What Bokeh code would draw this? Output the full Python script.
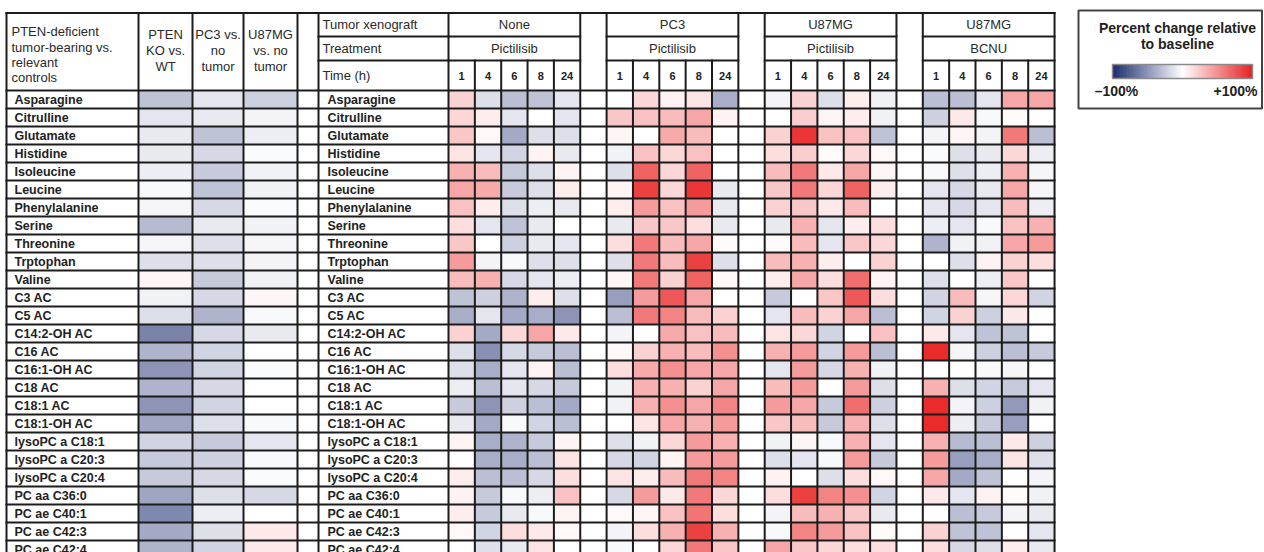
from bokeh.plotting import figure
from bokeh.models import Range1d, ColumnDataSource
from bokeh.core.properties import value
from bokeh.embed import file_html
from bokeh.resources import INLINE

# ---------------- data ----------------
metabolites = [
    "Asparagine", "Citrulline", "Glutamate", "Histidine", "Isoleucine", "Leucine",
    "Phenylalanine", "Serine", "Threonine", "Trptophan", "Valine", "C3 AC", "C5 AC",
    "C14:2-OH AC", "C16 AC", "C16:1-OH AC", "C18 AC", "C18:1 AC", "C18:1-OH AC",
    "lysoPC a C18:1", "lysoPC a C20:3", "lysoPC a C20:4", "PC aa C36:0",
    "PC ae C40:1", "PC ae C42:3", "PC ae C42:4",
]

control_title = ["PTEN-deficient", "tumor-bearing vs.", "relevant", "controls"]
control_labels = [["PTEN", "KO vs.", "WT"], ["PC3 vs.", "no", "tumor"], ["U87MG", "vs. no", "tumor"]]

# percent change, tumor-bearing vs. controls
pten_ko_vs_wt = [-28, -12, -10, -10, -8, -3, -4, -32, -4, -15, 4, -6, -15,
                 -58, -35, -50, -35, -50, -42, -20, -25, -25, -42, -56, -40, -35]
pc3_vs_no_tumor = [-12, -10, -28, -18, -25, -28, -18, -10, -15, -15, -25, -18, -35,
                   -18, -20, -20, -18, -20, -15, -25, -22, -18, -15, -8, -15, -20]
u87mg_vs_no_tumor = [-22, -5, -8, -2, -6, -6, -2, -6, -4, -5, -6, 4, -3,
                     -10, 0, -2, 0, 0, -3, -12, -3, -2, -18, 0, 10, 10]

xenografts = ["None", "PC3", "U87MG", "U87MG"]
treatments = ["Pictilisib", "Pictilisib", "Pictilisib", "BCNU"]
time_points = ["1", "4", "6", "8", "24"]

# percent change relative to baseline, columns = time points (h)
none_pictilisib = [
    [20, -15, -30, -28, -12], [18, 8, -12, 0, -12], [25, 3, -40, -15, -15],
    [12, -12, -20, 5, -10], [35, 30, -25, -15, 5], [40, 38, -25, -15, 8],
    [28, 8, -15, -8, -10], [15, -12, -28, -10, 0], [25, 0, -22, -10, -12],
    [45, -5, -3, -15, -15], [30, 35, -18, -12, -8], [-28, -22, -35, 8, -15],
    [-38, -12, -40, -38, -50], [20, -40, 18, 40, 10], [-15, -52, -18, -25, -30],
    [-15, -38, -12, 6, -30], [-8, -30, -12, -18, -25], [-25, -50, -22, -30, -40],
    [-10, -40, -3, -20, -30], [5, -38, -35, -25, 5], [0, -38, -38, -30, 12],
    [8, -30, -30, -18, 15], [6, -25, -3, -8, 28], [8, -25, -10, -3, 5],
    [3, -20, 15, 10, 3], [0, -15, -10, 12, 0],
]
pc3_pictilisib = [
    [0, 18, 6, 12, -38], [25, 28, 30, 40, 6], [4, 0, 38, 30, 0],
    [-6, 28, 18, 28, 0], [-15, 70, 18, 70, 0], [5, 85, 18, 90, -10],
    [8, 45, 28, 45, -10], [-10, 25, 25, 15, -10], [15, 60, 30, 40, 2],
    [-15, 60, 30, 85, -15], [4, 60, 20, 70, 3], [-45, 45, 75, 40, 0],
    [-30, 60, 55, 30, 20], [-5, 0, 38, 28, 30], [3, 20, 35, 30, 50],
    [15, 38, 50, 40, 40], [-6, 35, 35, 20, 40], [-6, 35, 50, 40, 55],
    [0, 12, 40, 35, 45], [-15, -6, 18, 45, 35], [-18, -20, 5, 45, 45],
    [12, 8, 30, 60, 55], [-18, 45, 10, 60, 18], [3, 4, 28, 62, 15],
    [-5, 15, 35, 85, 35], [-3, 0, 18, 60, 25],
]
u87mg_pictilisib = [
    [-5, 20, -15, 8, -6], [0, 22, 4, 8, -6], [20, 90, 28, 28, -28],
    [15, 22, 2, 18, 3], [30, 60, 10, 40, 4], [25, 60, 18, 70, 8],
    [20, 25, 10, 30, 0], [-10, 35, -12, 8, 15], [2, 30, -12, 25, 18],
    [30, 35, 8, 0, 20], [8, 40, 15, 65, 5], [-25, 0, 25, 75, 15],
    [-12, 30, 20, 40, -30], [12, 18, -20, 0, 28], [35, 45, -20, 45, -30],
    [-12, 45, -18, 35, -6], [30, 45, 0, 45, -15], [45, 40, -25, 65, -22],
    [25, 30, -25, 35, -15], [-6, 4, -3, 35, -12], [-15, -12, -3, 45, -25],
    [6, 0, -15, 15, 3], [15, 85, 55, 50, -20], [-5, 30, 35, 25, -10],
    [-3, 55, 45, 28, 2], [40, 25, 18, 15, 15],
]
u87mg_bcnu = [
    [-30, -30, -12, 40, 40], [-22, 10, -3, 2, 0], [-5, 4, -5, 60, -30],
    [-2, -15, -10, 18, -8], [-3, -15, -8, 35, -4], [-12, -18, -10, 40, -4],
    [-12, -18, -12, 30, -8], [-8, -12, -3, 28, 35], [-35, -6, -6, 40, 45],
    [0, -15, 6, 20, 15], [-15, 0, -8, 25, 0], [-20, 30, -4, 18, -20],
    [-20, 20, -22, 10, 0], [10, -12, -28, -28, 0], [95, -4, -22, -30, -25],
    [0, 0, -3, -4, 0], [35, -15, -20, -25, -12], [95, -5, -22, -48, -6],
    [95, -8, -25, -45, 0], [35, -32, -30, 10, -22], [45, -45, -38, 12, -15],
    [40, -40, -28, 0, -5], [10, -12, 6, 2, -6], [0, -30, -25, -5, -10],
    [20, -28, -28, 0, -12], [15, -18, -15, 8, -10],
]
group_values = [none_pictilisib, pc3_pictilisib, u87mg_pictilisib, u87mg_bcnu]

legend_title = ["Percent change relative", "to baseline"]
legend_ticks = [(-100, "\u2013100%"), (100, "+100%")]

# ---------------- colour scale ----------------
NEG = (27, 42, 110)
POS = (232, 32, 32)


def pct_color(v):
    t = max(-1.0, min(1.0, v / 100.0))
    end = POS if t > 0 else NEG
    a = abs(t)
    rgb = [round(255 + (e - 255) * a) for e in end]
    return "#%02x%02x%02x" % tuple(rgb)


# ---------------- layout ----------------
W, H = 1264, 552
TOP, HR1, HR2, BODY, ROW = 12.5, 36, 60, 90, 18
LEFT_EDGES = [6, 138, 192, 243, 297, 318]
RLABEL_R = 448
X0, CW = 448, 26.35
N_ROWS = len(metabolites)
BOTTOM = BODY + N_ROWS * ROW
XR = X0 + 23 * CW
LINE = "#1c1c1c"
FONT = value("Liberation Sans")

p = figure(width=W, height=H, x_range=Range1d(0, W), y_range=Range1d(H, 0),
           output_backend="svg", toolbar_location=None, min_border=0,
           x_axis_location=None, y_axis_location=None)
p.grid.visible = False
p.outline_line_color = None
p.background_fill_color = "white"
p.border_fill_color = "white"

# ----- cells -----
cl, cr, ct, cb, cc = [], [], [], [], []
for j, series in enumerate([pten_ko_vs_wt, pc3_vs_no_tumor, u87mg_vs_no_tumor]):
    for i, v in enumerate(series):
        cl.append(LEFT_EDGES[j + 1]); cr.append(LEFT_EDGES[j + 2])
        ct.append(BODY + i * ROW); cb.append(BODY + (i + 1) * ROW)
        cc.append(pct_color(v))
for g, vals in enumerate(group_values):
    for i, row in enumerate(vals):
        for c, v in enumerate(row):
            k = 6 * g + c
            cl.append(X0 + k * CW); cr.append(X0 + (k + 1) * CW)
            ct.append(BODY + i * ROW); cb.append(BODY + (i + 1) * ROW)
            cc.append(pct_color(v))
p.quad(left="l", right="r", top="t", bottom="b", fill_color="c", line_color=None,
       source=ColumnDataSource(dict(l=cl, r=cr, t=ct, b=cb, c=cc)))

# ----- grid lines -----
sx0, sy0, sx1, sy1 = [], [], [], []


def seg(a, b, c, d):
    sx0.append(a); sy0.append(b); sx1.append(c); sy1.append(d)


seg(LEFT_EDGES[0], TOP, XR, TOP)
for i in range(N_ROWS + 1):
    seg(LEFT_EDGES[0], BODY + i * ROW, XR, BODY + i * ROW)
for y in (HR1, HR2):
    seg(LEFT_EDGES[-1], y, RLABEL_R, y)
    for g in range(4):
        seg(X0 + 6 * g * CW, y, X0 + (6 * g + 5) * CW, y)
for x in LEFT_EDGES + [RLABEL_R]:
    seg(x, TOP, x, BOTTOM)
for k in range(1, 24):
    x = X0 + k * CW
    full = (k % 6 in (0, 5)) or k == 23
    seg(x, TOP if full else HR2, x, BOTTOM)
p.segment(x0=sx0, y0=sy0, x1=sx1, y1=sy1, line_color=LINE, line_width=2, line_cap="square")

# ----- texts -----
def put(xs, ys, texts, size, bold=False, align="left", color="#222222"):
    p.text(x=xs, y=ys, text=texts, text_font=FONT, text_font_size=value(size),
           text_font_style="bold" if bold else "normal", text_align=align,
           text_baseline="middle", text_color=color)


row_y = [BODY + (i + 0.5) * ROW for i in range(N_ROWS)]
put([14] * N_ROWS, row_y, metabolites, "12.5px", bold=True)
put([327] * N_ROWS, row_y, metabolites, "12.5px", bold=True)

put([11] * 4, [31, 46.5, 62, 77], control_title, "13px", color="#2a2a2a")
for j, lines in enumerate(control_labels):
    cx = (LEFT_EDGES[j + 1] + LEFT_EDGES[j + 2]) / 2
    put([cx] * 3, [34, 50, 66], lines, "13px", align="center", color="#2a2a2a")

put([322] * 3, [24, 48, 75], ["Tumor xenograft", "Treatment", "Time (h)"], "13px", color="#2a2a2a")
for g in range(4):
    gx = X0 + (6 * g + 2.5) * CW
    put([gx], [24], [xenografts[g]], "13px", align="center", color="#2a2a2a")
    put([gx], [48], [treatments[g]], "13px", align="center", color="#2a2a2a")
    put([X0 + (6 * g + c + 0.5) * CW for c in range(5)], [75.5] * 5, time_points,
        "11px", bold=True, align="center")

# ----- legend -----
p.quad(left=1078, right=1261.5, top=10, bottom=108, fill_color=None, line_color="#444444", line_width=2)
put([1177, 1177], [27, 43], legend_title, "14px", bold=True, align="center")
BAR_L, BAR_R, BAR_T, BAR_B = 1112, 1252, 64, 78
steps = list(range(-100, 101, 2))
span = BAR_R - BAR_L
bw = span / (len(steps) - 1)
bx = [BAR_L + (v + 100) / 200 * span for v in steps]
# overlapping slices keep the gradient free of seams
p.quad(left=[max(BAR_L, x - bw / 2) for x in bx],
       right=[min(BAR_R, x + bw) for x in bx],
       top=BAR_T, bottom=BAR_B,
       fill_color=[pct_color(v) for v in steps], line_color=None)
p.quad(left=BAR_L, right=BAR_R, top=BAR_T, bottom=BAR_B, fill_color=None,
       line_color="#8a8a8a", line_width=1.5)
put([1116, 1235], [90, 90], [t for _, t in legend_ticks], "14px", bold=True, align="center")

open("out.html", "w").write(file_html(p, INLINE))
